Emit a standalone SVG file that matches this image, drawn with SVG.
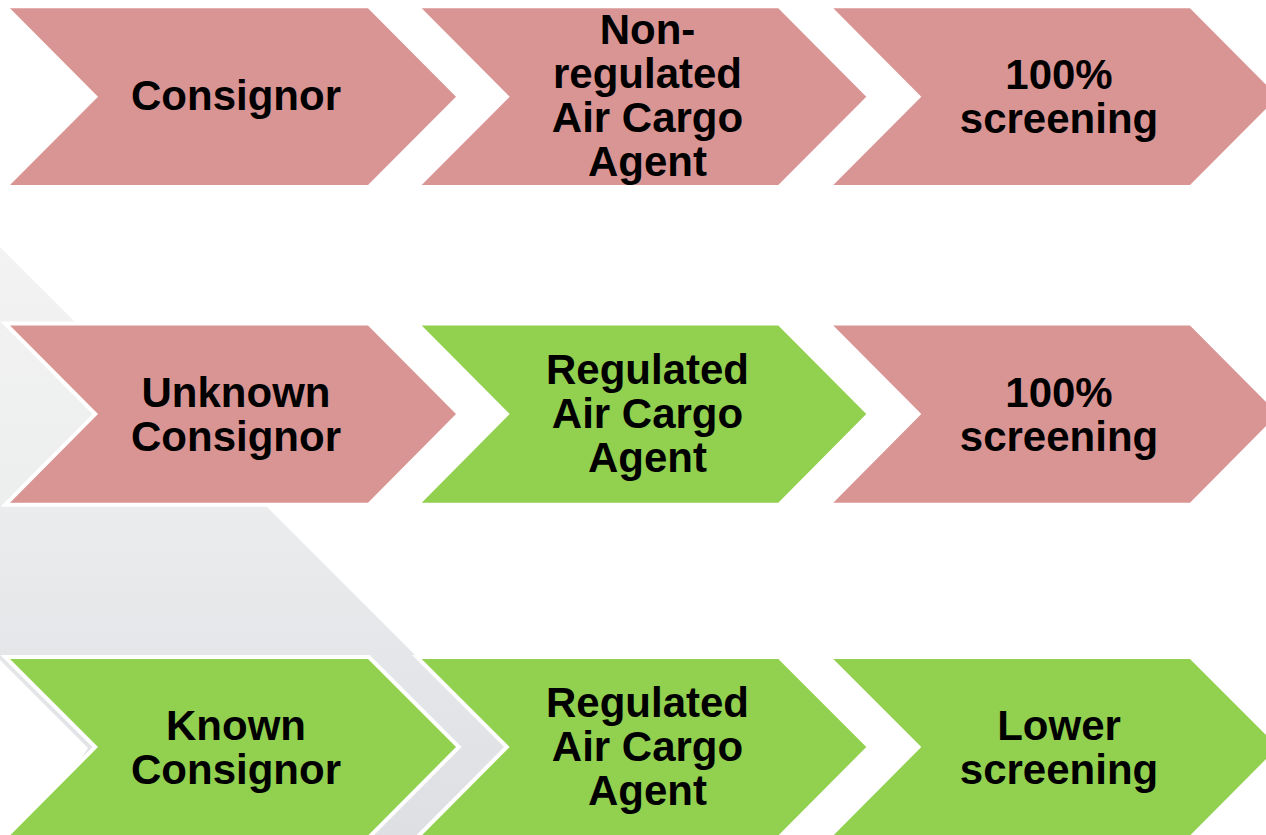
<svg xmlns="http://www.w3.org/2000/svg" width="1266" height="835" viewBox="0 0 1266 835">
  <defs>
    <linearGradient id="gA" gradientUnits="userSpaceOnUse" x1="0" y1="171" x2="0" y2="657">
      <stop offset="0" stop-color="#f4f4f4"/>
      <stop offset="1" stop-color="#eaebec"/>
    </linearGradient>
    <linearGradient id="gB" gradientUnits="userSpaceOnUse" x1="0" y1="505" x2="0" y2="840">
      <stop offset="0" stop-color="#ebecee"/>
      <stop offset="1" stop-color="#dedfe2"/>
    </linearGradient>
  </defs>
  <style>
    .chev { stroke: #ffffff; stroke-width: 8; stroke-linejoin: miter; paint-order: stroke fill; }
    .pink { fill: #D99594; }
    .green { fill: #92D050; }
    .lbl { font-family: "Liberation Sans", Arial, sans-serif; font-weight: bold; font-size: 42px; fill: #000000; text-anchor: middle; }
  </style>
  <rect x="0" y="0" width="1266" height="835" fill="#ffffff"/>
  <g id="background">
    <polygon points="-600,171 -76,171 167,414 -76,657 -600,657" fill="url(#gA)"/>
    <polygon points="-155,505 265,505 508,748 416,840 30,840 88,748" fill="url(#gB)"/>
  </g>
  <g id="connectors"/>

  <g id="r1c1">
    <polygon class="chev pink" points="10,8.3 368,8.3 456,96.7 368,185 10,185 98,96.7"/>
    <text class="lbl" x="236" y="110">Consignor</text>
  </g>
  <g id="r1c2">
    <polygon class="chev pink" points="421.7,8.3 778.3,8.3 866.3,96.7 778.3,185 421.7,185 509.7,96.7"/>
    <text class="lbl" x="647.5" y="44">Non-</text>
    <text class="lbl" x="647.5" y="88">regulated</text>
    <text class="lbl" x="647.5" y="132">Air Cargo</text>
    <text class="lbl" x="647.5" y="176">Agent</text>
  </g>
  <g id="r1c3">
    <polygon class="chev pink" points="833.3,8.3 1190,8.3 1278,96.7 1190,185 833.3,185 921.3,96.7"/>
    <text class="lbl" x="1059" y="88.7">100%</text>
    <text class="lbl" x="1059" y="132.7">screening</text>
  </g>

  <g id="r2c1">
    <polygon class="chev pink" points="10,325.5 368,325.5 456,414 368,502.7 10,502.7 98,414"/>
    <text class="lbl" x="236" y="406.5">Unknown</text>
    <text class="lbl" x="236" y="450.5">Consignor</text>
  </g>
  <g id="r2c2">
    <polygon class="chev green" points="421.7,325.5 778.3,325.5 866.3,414 778.3,502.7 421.7,502.7 509.7,414"/>
    <text class="lbl" x="647.5" y="384">Regulated</text>
    <text class="lbl" x="647.5" y="428">Air Cargo</text>
    <text class="lbl" x="647.5" y="472">Agent</text>
  </g>
  <g id="r2c3">
    <polygon class="chev pink" points="833.3,325.5 1190,325.5 1278,414 1190,502.7 833.3,502.7 921.3,414"/>
    <text class="lbl" x="1059" y="406.5">100%</text>
    <text class="lbl" x="1059" y="450.5">screening</text>
  </g>

  <g id="r3c1">
    <polygon class="chev green" points="10,659 368,659 456,747 368,835.5 10,835.5 98,747"/>
    <text class="lbl" x="236" y="739.5">Known</text>
    <text class="lbl" x="236" y="783.5">Consignor</text>
  </g>
  <g id="r3c2">
    <polygon class="chev green" points="421.7,659 778.3,659 866.3,747 778.3,835.5 421.7,835.5 509.7,747"/>
    <text class="lbl" x="647.5" y="717">Regulated</text>
    <text class="lbl" x="647.5" y="761">Air Cargo</text>
    <text class="lbl" x="647.5" y="805">Agent</text>
  </g>
  <g id="r3c3">
    <polygon class="chev green" points="833.3,659 1190,659 1278,747 1190,835.5 833.3,835.5 921.3,747"/>
    <text class="lbl" x="1059" y="739.5">Lower</text>
    <text class="lbl" x="1059" y="783.5">screening</text>
  </g>
</svg>
